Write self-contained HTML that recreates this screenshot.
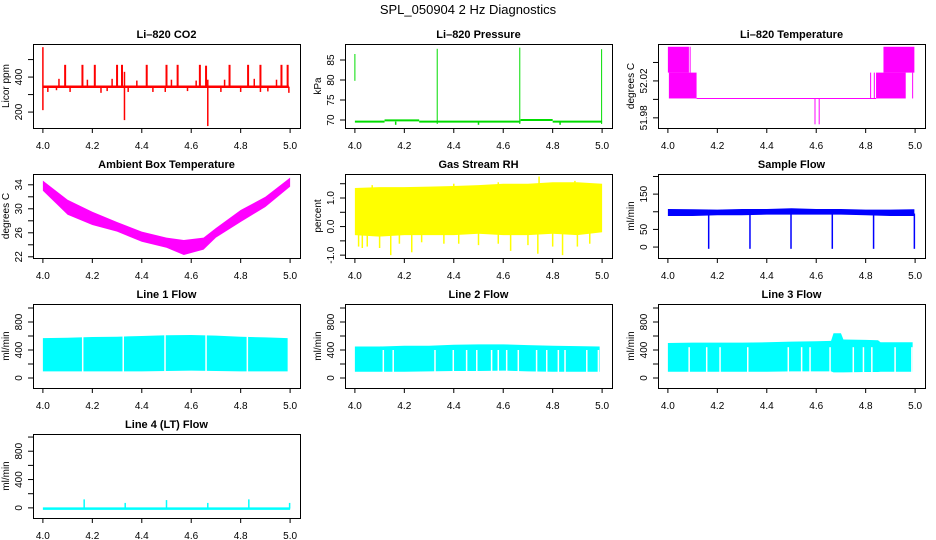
<!DOCTYPE html>
<html><head><meta charset="utf-8"><style>
html,body{margin:0;padding:0;background:#fff;}
svg{display:block;font-family:"Liberation Sans",Arial,sans-serif;}
</style></head><body>
<svg id="chart" width="936" height="540" viewBox="0 0 936 540" xmlns="http://www.w3.org/2000/svg">
<rect x="0" y="0" width="936" height="540" fill="#fff"/>
<text x="468" y="14" text-anchor="middle" font-size="13">SPL_050904  2 Hz Diagnostics</text>
</svg>
<script>
// ---- data ----
const xTicks=[4.0,4.2,4.4,4.6,4.8,5.0];
const xTickLabels=["4.0","4.2","4.4","4.6","4.8","5.0"];
// CO2
const co2Base=345;
const co2UpX=[4.09,4.16,4.21,4.30,4.32,4.42,4.50,4.545,4.635,4.66,4.755,4.83,4.88,4.965,4.99];
const co2UpY=[470,470,470,470,470,470,470,470,470,465,470,470,470,470,470];
const co2MidX=[4.065,4.18,4.28,4.38,4.52,4.62,4.735,4.855,4.945];
const co2MidY=[390,385,390,380,385,380,385,390,385];
const co2DnX=[4.02,4.055,4.11,4.235,4.26,4.345,4.445,4.495,4.585,4.72,4.80,4.88,4.91,4.995];
const co2DnY=[315,325,315,310,320,315,315,315,320,315,315,315,318,310];
const co2BigX=[4.0,4.33,4.667];
const co2BigLo=[211,154,120];
const co2BigHi=[571,430,385];
// Pressure
const prSegX0=[4.0,4.12,4.26,4.67,4.8];
const prSegX1=[4.12,4.26,4.67,4.8,5.0];
const prSegY=[69.6,69.9,69.6,70.0,69.6];
const prSpX=[4.0,4.333,4.667,4.998];
const prSpLo=[79.8,69,69,69];
const prSpHi=[86.5,87.8,88.1,87.7];
const prDnX=[4.165,4.5,4.83];
const prDnY=[68.8,68.8,68.8];
// Li-820 temperature
const tbX0=[4.0,4.004,4.842,4.872];
const tbX1=[4.085,4.116,4.962,4.997];
const tbHi=[52.057,52.029,52.029,52.057];
const tbLo=[52.029,52.001,52.001,52.029];
const tBaseX=[4.116,4.842];
const tBaseY=52.001;
const tdX=[4.595,4.612];
const tdY=[51.973,51.973];
const tvX=[4.09,4.82,4.835,4.99];
const tvLo=[52.029,52.001,52.001,52.001];
const tvHi=[52.057,52.029,52.029,52.029];
// Ambient
const amX=[4.0,4.1,4.2,4.3,4.4,4.5,4.57,4.65,4.7,4.8,4.9,5.0];
const amHi=[34.7,31.5,29.5,27.8,26.2,25.2,24.8,25.2,26.8,29.8,32.0,35.2];
const amLo=[33.0,29.0,27.3,26.2,24.5,23.5,22.3,23.2,25.2,27.8,30.3,33.7];
// RH
const rhX=[4.0,4.1,4.2,4.3,4.4,4.5,4.6,4.7,4.8,4.9,5.0];
const rhHi=[1.35,1.38,1.38,1.40,1.42,1.45,1.50,1.50,1.55,1.55,1.50];
const rhLo=[-0.30,-0.35,-0.30,-0.30,-0.30,-0.25,-0.30,-0.30,-0.25,-0.30,-0.20];
const rhDnX=[4.015,4.03,4.05,4.10,4.145,4.18,4.23,4.27,4.36,4.42,4.50,4.58,4.63,4.70,4.74,4.80,4.84,4.90,4.95];
const rhDnY=[-0.7,-0.75,-0.7,-0.75,-1.0,-0.6,-0.9,-0.55,-0.6,-0.6,-0.65,-0.6,-0.85,-0.65,-0.95,-0.7,-1.0,-0.7,-0.6];
const rhUpX=[4.07,4.4,4.58,4.745,4.89];
const rhUpY=[1.45,1.5,1.55,1.75,1.6];
// Sample flow
const sfX=[4.0,4.1,4.2,4.3,4.4,4.5,4.6,4.7,4.8,4.9,4.997];
const sfHi=[108,107,106,108,108,110,108,108,106,106,107];
const sfLo=[88,88,90,90,92,92,92,92,90,88,88];
const sfDipX=[4.165,4.332,4.498,4.665,4.832,4.997];
const sfDipLo=[-5,-5,-5,-5,-5,-5];
// Line flows
const lfX=[4.0,4.1,4.2,4.3,4.4,4.5,4.6,4.7,4.8,4.9,4.99];
const l1Hi=[570,575,585,590,600,610,615,605,590,580,570];
const l1Lo=[95,95,95,95,95,100,105,100,95,95,95];
const l1Gap=[4.161,4.325,4.494,4.660,4.827];
const l2Hi=[450,450,460,460,475,480,480,470,460,455,450];
const l2Lo=[90,90,90,95,100,100,105,95,90,90,90];
const l2Gap=[4.115,4.155,4.324,4.398,4.452,4.493,4.553,4.580,4.614,4.661,4.735,4.776,4.823,4.850,4.938,4.985];
const l3X=[4.0,4.1,4.2,4.3,4.4,4.5,4.6,4.66,4.67,4.70,4.71,4.8,4.85,4.86,4.9,4.99];
const l3Hi=[500,505,505,505,510,520,525,530,640,640,550,545,540,510,510,510];
const l3Lo=[90,90,90,90,90,95,95,95,80,80,80,85,85,90,90,90];
const l3Gap=[4.086,4.157,4.211,4.323,4.487,4.541,4.575,4.656,4.750,4.791,4.825,4.919,4.987];
const l4Base=-10;
const l4SpX=[4.167,4.333,4.5,4.667,4.833,4.998];
const l4SpY=[120,70,110,70,120,70];

// ---- drawing ----
const NS='http://www.w3.org/2000/svg';
const svg=document.getElementById('chart');
const XLIM=[3.96,5.04];
const colX=[33,345,658], rowY=[44,174,304,434], PW=267, PH=84;
function mk(tag,attrs,parent,name){
  const el=document.createElementNS(NS,tag);
  for(const k in attrs) el.setAttribute(k,attrs[k]);
  
  
  parent.appendChild(el);
  return el;
}
let clipN=0;
function panel(p){
  const L=colX[p.col],T=rowY[p.row];
  const g=mk('g',{},svg,p.id+'-panel');
  const sx=v=>L+(v-XLIM[0])/(XLIM[1]-XLIM[0])*PW;
  const sy=v=>T+PH-(v-p.ylim[0])/(p.ylim[1]-p.ylim[0])*PH;
  mk('text',{x:L+PW/2,y:T-6,'text-anchor':'middle','font-size':11,'font-weight':'bold'},g,p.id+'-title').textContent=p.title;
  const ax=mk('g',{stroke:'#000','stroke-width':1,fill:'none'},g,p.id+'-axes');
  mk('rect',{x:L+0.5,y:T+0.5,width:PW,height:PH},ax,p.id+'-plot-frame');
  xTicks.forEach((v,i)=>{
    mk('line',{x1:sx(v),x2:sx(v),y1:T+PH,y2:T+PH+5},ax,p.id+'-x-tick');
    const t=mk('text',{x:sx(v),y:T+PH+21,'text-anchor':'middle','font-size':10,fill:'#000',stroke:'none'},g,p.id+'-x-tick-label');
    t.textContent=xTickLabels[i];
  });
  p.yticks.forEach(v=>{
    mk('line',{x1:L-5,x2:L,y1:sy(v),y2:sy(v)},ax,p.id+'-y-tick');
  });
  p.ylabels.forEach(v=>{
    const t=mk('text',{x:0,y:0,transform:`translate(${L-11},${sy(v)}) rotate(-90)`,'text-anchor':'middle','font-size':10},g,p.id+'-y-tick-label');
    t.textContent=p.yfmt?p.yfmt(v):String(v);
  });
  const yt=mk('text',{x:0,y:0,transform:`translate(${L-24},${T+PH/2}) rotate(-90)`,'text-anchor':'middle','font-size':10},g,p.id+'-y-axis-title');
  yt.textContent=p.ylab;
  const cid='clip'+(clipN++);
  const cp=mk('clipPath',{id:cid},g,p.id+'-clip');
  mk('rect',{x:L,y:T,width:PW,height:PH},cp,p.id+'-clip-rect');
  const dg=mk('g',{'clip-path':`url(#${cid})`},g,p.id+'-data');
  return {sx,sy,g:dg};
}
function vline(P,x,y0,y1,c,w,name){
  return mk('line',{x1:P.sx(x),x2:P.sx(x),y1:P.sy(y0),y2:P.sy(y1),stroke:c,'stroke-width':w},P.g,name);
}
function band(P,xs,hi,lo,c,name){
  let pts=xs.map((x,i)=>P.sx(x)+','+P.sy(hi[i]));
  pts=pts.concat(xs.map((x,i)=>P.sx(x)+','+P.sy(lo[i])).reverse());
  return mk('polygon',{points:pts.join(' '),fill:c},P.g,name);
}

// CO2
let P=panel({id:'co2',col:0,row:0,title:'Li\u2013820 CO2',ylab:'Licor ppm',ylim:[109,589],yticks:[200,300,400,500],ylabels:[200,400]});
co2UpX.forEach((x,i)=>vline(P,x,co2Base,co2UpY[i],'#f00',2,'co2-spike-up'));
co2MidX.forEach((x,i)=>vline(P,x,co2Base,co2MidY[i],'#f00',1.5,'co2-spike-mid'));
co2DnX.forEach((x,i)=>vline(P,x,co2Base,co2DnY[i],'#f00',1.5,'co2-spike-down'));
co2BigX.forEach((x,i)=>vline(P,x,co2BigLo[i],co2BigHi[i],'#f00',1.5,'co2-spike-large'));
mk('line',{x1:P.sx(4.0),x2:P.sx(4.995),y1:P.sy(co2Base),y2:P.sy(co2Base),stroke:'#f00','stroke-width':2.5},P.g,'co2-baseline');

// Pressure
P=panel({id:'pressure',col:1,row:0,title:'Li\u2013820 Pressure',ylab:'kPa',ylim:[68,89],yticks:[70,75,80,85],ylabels:[70,75,80,85]});
prSegX0.forEach((x,i)=>mk('line',{x1:P.sx(x),x2:P.sx(prSegX1[i]),y1:P.sy(prSegY[i]),y2:P.sy(prSegY[i]),stroke:'#00dd00','stroke-width':2},P.g,'pressure-line'));
prSpX.forEach((x,i)=>vline(P,x,prSpLo[i],prSpHi[i],'#00dd00',1,'pressure-spike'));
prDnX.forEach((x,i)=>vline(P,x,69.6,prDnY[i],'#00dd00',1.5,'pressure-dip'));

// Li-820 temperature
P=panel({id:'licor-temp',col:2,row:0,title:'Li\u2013820 Temperature',ylab:'degrees C',ylim:[51.969,52.06],yticks:[51.98,52.0,52.02,52.04],ylabels:[51.98,52.02],yfmt:v=>v.toFixed(2)});
tbX0.forEach((x,i)=>mk('rect',{x:P.sx(x),y:P.sy(tbHi[i]),width:P.sx(tbX1[i])-P.sx(x),height:P.sy(tbLo[i])-P.sy(tbHi[i]),fill:'#f0f'},P.g,'licor-temp-block'));
mk('line',{x1:P.sx(tBaseX[0]),x2:P.sx(tBaseX[1]),y1:P.sy(tBaseY),y2:P.sy(tBaseY),stroke:'#f0f','stroke-width':1},P.g,'licor-temp-baseline');
tdX.forEach((x,i)=>vline(P,x,tBaseY,tdY[i],'#f0f',1,'licor-temp-dip'));
tvX.forEach((x,i)=>vline(P,x,tvLo[i],tvHi[i],'#f0f',1,'licor-temp-step'));

// Ambient
P=panel({id:'ambient',col:0,row:1,title:'Ambient Box Temperature',ylab:'degrees C',ylim:[21.8,35.8],yticks:[22,24,26,28,30,32,34],ylabels:[22,26,30,34]});
band(P,amX,amHi,amLo,'#f0f','ambient-temp-band');

// RH
P=panel({id:'rh',col:1,row:1,title:'Gas Stream RH',ylab:'percent',ylim:[-1.1,1.84],yticks:[-1.0,-0.5,0,0.5,1.0,1.5],ylabels:[-1,0,1],yfmt:v=>v.toFixed(1)});
band(P,rhX,rhHi,rhLo,'#ff0','rh-band');
rhDnX.forEach((x,i)=>vline(P,x,0,rhDnY[i],'#ff0',1.5,'rh-spike-down'));
rhUpX.forEach((x,i)=>vline(P,x,1,rhUpY[i],'#ff0',1.5,'rh-spike-up'));

// Sample flow
P=panel({id:'sample-flow',col:2,row:1,title:'Sample Flow',ylab:'ml/min',ylim:[-31,207],yticks:[0,50,100,150,200],ylabels:[0,50,150]});
band(P,sfX,sfHi,sfLo,'#00f','sample-flow-band');
sfDipX.forEach((x,i)=>vline(P,x,95,sfDipLo[i],'#00f',1.5,'sample-flow-dip'));

// Line flows
const lfTicks=[0,200,400,600,800,1000], lfLabels=[0,400,800];
P=panel({id:'line1',col:0,row:2,title:'Line 1 Flow',ylab:'ml/min',ylim:[-143,1057],yticks:lfTicks,ylabels:lfLabels});
band(P,lfX,l1Hi,l1Lo,'#0ff','line1-band');
l1Gap.forEach(x=>vline(P,x,50,700,'#fff',1.5,'line1-gap'));

P=panel({id:'line2',col:1,row:2,title:'Line 2 Flow',ylab:'ml/min',ylim:[-143,1057],yticks:lfTicks,ylabels:lfLabels});
band(P,lfX,l2Hi,l2Lo,'#0ff','line2-band');
l2Gap.forEach(x=>vline(P,x,50,400,'#fff',1.5,'line2-gap'));

P=panel({id:'line3',col:2,row:2,title:'Line 3 Flow',ylab:'ml/min',ylim:[-143,1057],yticks:lfTicks,ylabels:lfLabels});
band(P,l3X,l3Hi,l3Lo,'#0ff','line3-band');
l3Gap.forEach(x=>vline(P,x,50,440,'#fff',1.5,'line3-gap'));

P=panel({id:'line4',col:0,row:3,title:'Line 4 (LT) Flow',ylab:'ml/min',ylim:[-143,1043],yticks:lfTicks,ylabels:lfLabels});
mk('line',{x1:P.sx(4.0),x2:P.sx(5.0),y1:P.sy(l4Base),y2:P.sy(l4Base),stroke:'#0ff','stroke-width':2.5},P.g,'line4-baseline');
l4SpX.forEach((x,i)=>vline(P,x,l4Base,l4SpY[i],'#0ff',1.5,'line4-spike'));
</script>
</body></html>
